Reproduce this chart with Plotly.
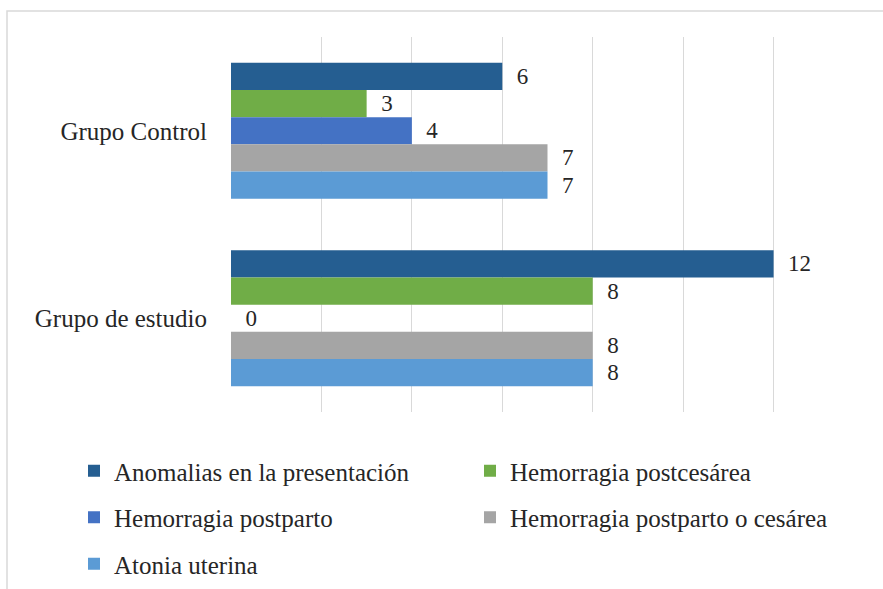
import plotly.graph_objects as go

categories = ["Grupo Control", "Grupo de estudio"]
series_names = [
    "Anomalias en la presentación",
    "Hemorragia postcesárea",
    "Hemorragia postparto",
    "Hemorragia postparto o cesárea",
    "Atonia uterina",
]
anomalias = [6, 12]
hem_postcesarea = [3, 8]
hem_postparto = [4, 0]
hem_postparto_cesarea = [7, 8]
atonia = [7, 8]
series_values = [anomalias, hem_postcesarea, hem_postparto, hem_postparto_cesarea, atonia]
colors = ["#255E91", "#70AD47", "#4472C4", "#A5A5A5", "#5B9BD5"]
legend_ids = ["legend", "legend2", "legend", "legend2", "legend"]

W, H = 883, 589
L, R, T, B = 231, 19, 37, 177
PW, PH = W - L - R, H - T - B

def px_x(px):
    return (px - L) / PW

def px_y(py):
    return (H - B - py) / PH

FONT = "Liberation Serif, serif"
TXT = "#262626"
FS = 25
FS_LBL = 23

fig = go.Figure()
for i, (name, vals) in enumerate(zip(series_names, series_values)):
    fig.add_trace(go.Bar(
        y=categories, x=vals, name=name, orientation="h",
        marker=dict(color=colors[i], line=dict(width=0)),
        text=vals, texttemplate="\u00a0\u00a0%{x}", textposition="outside",
        textfont=dict(family=FONT, size=FS_LBL, color=TXT),
        cliponaxis=False,
        legend=legend_ids[i], legendgroup=f"g{i}",
    ))

legend_common = dict(
    orientation="v", xanchor="left", yanchor="top", traceorder="grouped",
    tracegroupgap=11, font=dict(family=FONT, size=FS, color=TXT),
    bgcolor="rgba(0,0,0,0)", borderwidth=0,
)

fig.update_layout(
    width=W, height=H,
    margin=dict(l=L, r=R, t=T, b=B, autoexpand=False),
    paper_bgcolor="white", plot_bgcolor="white",
    barmode="group", bargap=0.275, bargroupgap=0,
    font=dict(family=FONT, size=FS, color=TXT),
    xaxis=dict(range=[0, 14], dtick=2, showticklabels=False, showgrid=True,
               gridcolor="#D9D9D9", gridwidth=1, zeroline=False, showline=False,
               fixedrange=True),
    yaxis=dict(autorange="reversed", showgrid=False, zeroline=False, showline=False,
               ticks="", ticklabelstandoff=23,
               tickfont=dict(family=FONT, size=FS, color=TXT)),
    legend=dict(x=px_x(74), y=px_y(448), **legend_common),
    legend2=dict(x=px_x(470), y=px_y(448), **legend_common),
    shapes=[dict(type="rect", xref="paper", yref="paper",
                 x0=px_x(7), x1=px_x(895), y0=px_y(600), y1=px_y(11),
                 line=dict(color="#D9D9D9", width=1.5), fillcolor="rgba(0,0,0,0)",
                 layer="below")],
)

fig.write_html("out.html", config={"displayModeBar": False},
               post_script="document.body.style.margin='0';document.body.style.overflow='hidden';")
